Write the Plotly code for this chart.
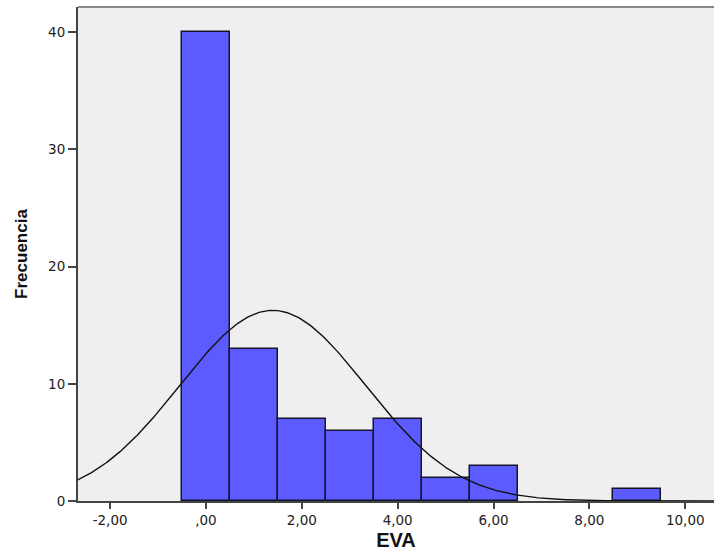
import numpy as np
import plotly.graph_objects as go

# Histogram of EVA scores (bin centres and frequencies)
eva_values = [0, 1, 2, 3, 4, 5, 6, 9]
frequencies = [40, 13, 7, 6, 7, 2, 3, 1]
x_ticks = [-2, 0, 2, 4, 6, 8, 10]
x_tick_labels = ["-2,00", ",00", "2,00", "4,00", "6,00", "8,00", "10,00"]
y_ticks = [0, 10, 20, 30, 40]

# Fitted normal curve scaled to counts (bin width 1)
vals = np.array(eva_values, dtype=float)
cnts = np.array(frequencies, dtype=float)
n = cnts.sum()
mean = (vals * cnts).sum() / n
sd = np.sqrt(((vals - mean) ** 2 * cnts).sum() / (n - 1))
xs = np.linspace(-2.7, 10.7, 400)
ys = n * 1.0 / (sd * np.sqrt(2 * np.pi)) * np.exp(-0.5 * ((xs - mean) / sd) ** 2)

fig = go.Figure()
fig.add_trace(go.Bar(
    x=eva_values, y=frequencies, width=1,
    marker=dict(color="#5b5bff", line=dict(color="#15152a", width=1.5)),
    hoverinfo="x+y",
))
fig.add_trace(go.Scatter(
    x=xs, y=ys, mode="lines",
    line=dict(color="#111111", width=1.4),
    hoverinfo="skip",
))

font = "DejaVu Sans, Verdana, sans-serif"
fig.update_layout(
    width=714, height=554,
    margin=dict(l=78, r=0, t=7, b=53),
    paper_bgcolor="white",
    plot_bgcolor="#efefef",
    showlegend=False,
    bargap=0,
    xaxis=dict(
        range=[-2.67, 10.6],
        tickvals=x_ticks, ticktext=x_tick_labels,
        ticks="outside", ticklen=6, tickwidth=1.5, tickcolor="#444",
        showline=True, linecolor="#444", linewidth=2,
        showgrid=False, zeroline=False,
        tickfont=dict(family=font, size=13.5, color="#222"),
        title=dict(text="<b>EVA</b>", font=dict(family="Liberation Sans, Arial, sans-serif", size=20, color="#111"), standoff=6),
    ),
    yaxis=dict(
        range=[0, 42.15],
        tickvals=y_ticks,
        ticks="outside", ticklen=8, tickwidth=1.5, tickcolor="#444",
        showline=True, linecolor="#444", linewidth=2,
        showgrid=False, zeroline=False,
        tickfont=dict(family=font, size=13.5, color="#222"),
        title=dict(text="<b>Frecuencia</b>", font=dict(family="Liberation Sans, Arial, sans-serif", size=17, color="#111"), standoff=16),
    ),
    shapes=[dict(type="line", xref="paper", yref="paper", x0=0, x1=1, y0=1, y1=1,
                 line=dict(color="#888", width=2))],
)

fig.write_html("out.html")
